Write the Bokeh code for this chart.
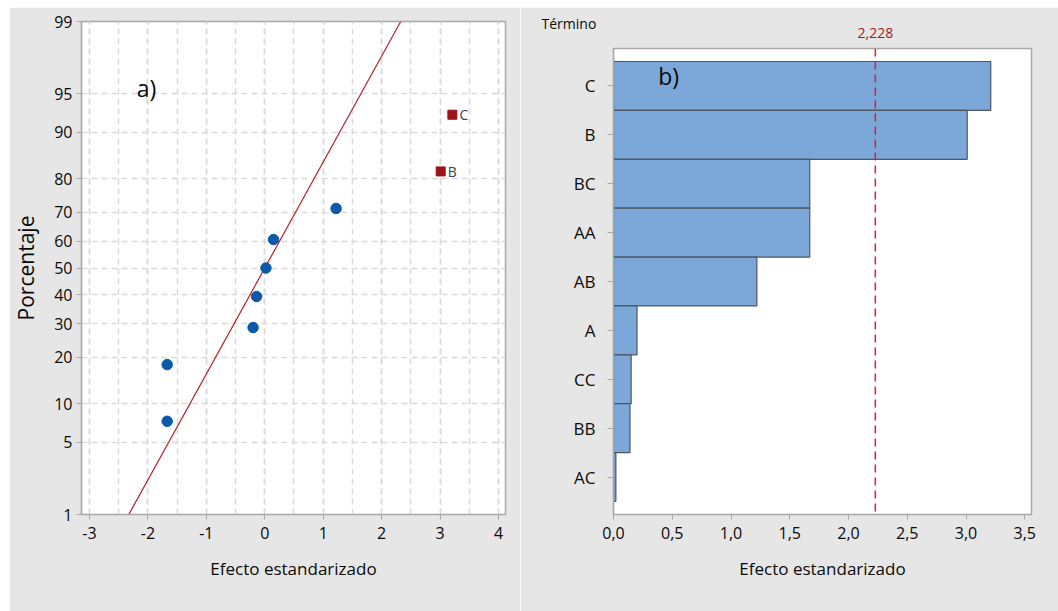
from statistics import NormalDist

from bokeh.core.properties import value
from bokeh.embed import file_html
from bokeh.layouts import row
from bokeh.models import CustomJSTickFormatter, FixedTicker, Label, LinearAxis, Range1d, Span
from bokeh.plotting import figure
from bokeh.resources import INLINE

# Standardized effects of the model terms (Pareto order)
terms = ["C", "B", "BC", "AA", "AB", "A", "CC", "BB", "AC"]
effects = [3.21, 3.01, -1.67, -1.67, 1.22, -0.20, 0.15, -0.14, 0.02]

# Plotting positions (%) of the ordered effects on the normal plot
normal_pct = [7.4, 18.1, 28.7, 39.4, 50.0, 60.6, 71.3, 81.9, 92.6]

# Reference line of the Pareto chart (t critical, alpha = 0.05)
critical_t = 2.228

# Fitted normal line for the effects
fit_mean = 0.0
fit_sd = 1.0

pct_ticks = [1, 5, 10, 20, 30, 40, 50, 60, 70, 80, 90, 95, 99]
left_x_ticks = [-3, -2, -1, 0, 1, 2, 3, 4]
left_x_minor = [-3, -2.5, -2, -1.5, -1, -0.5, 0, 0.5, 1, 1.5, 2, 2.5, 3, 3.5, 4]
right_x_ticks = [0.0, 0.5, 1.0, 1.5, 2.0, 2.5, 3.0, 3.5]

FONT = "Open Sans"
PANEL = "#e6e6e6"
FRAME = "#a8a8a8"
GRID = "#dadada"
BLUE = "#0b5aa8"
DARK_RED = "#9c1419"
LINE_RED = "#b0222a"
BAR_FILL = "#7ba7d9"
BAR_LINE = "#4d5660"
INK = "#0a0a0a"

nd = NormalDist()
z_of = lambda pct: nd.inv_cdf(pct / 100.0)


def style_axes(p):
    for ax in p.axis:
        ax.axis_line_color = FRAME
        ax.axis_line_width = 1.2
        ax.major_tick_line_color = FRAME
        ax.major_tick_in = 0
        ax.major_tick_out = 5
        ax.minor_tick_line_color = None
        ax.major_label_text_font = FONT
        ax.major_label_text_font_size = "16px"
        ax.major_label_text_color = INK
        ax.axis_label_text_font = FONT
        ax.axis_label_text_font_style = "normal"
        ax.axis_label_text_color = INK


# ---------------- a) normal probability plot ----------------
order = sorted(range(len(effects)), key=lambda i: effects[i])
nx = [effects[i] for i in order]
nz = [z_of(p) for p in normal_pct]
nterm = [terms[i] for i in order]
sig = [abs(v) > critical_t for v in nx]

p1 = figure(
    width=511, height=604,
    x_range=Range1d(-3.136, 4.119),
    y_range=Range1d(z_of(pct_ticks[0]), z_of(pct_ticks[-1])),
    output_backend="svg", toolbar_location=None,
    min_border_left=69, min_border_right=15, min_border_top=14, min_border_bottom=97,
    background_fill_color="white", border_fill_color=PANEL,
    outline_line_color=FRAME, outline_line_width=1.5,
    margin=(7, 0, 0, 9), frame_align=False,
)
p1.xaxis.ticker = FixedTicker(ticks=left_x_ticks, minor_ticks=left_x_minor)
p1.yaxis.ticker = FixedTicker(ticks=[z_of(t) for t in pct_ticks])
p1.yaxis.formatter = CustomJSTickFormatter(
    args=dict(zs=[z_of(t) for t in pct_ticks], labels=[str(t) for t in pct_ticks]),
    code="""
        let best = 0, d = 1e9;
        for (let i = 0; i < zs.length; i++) {
            const e = Math.abs(zs[i] - tick);
            if (e < d) { d = e; best = i; }
        }
        return labels[best];
    """,
)
p1.xaxis.formatter = CustomJSTickFormatter(code="return tick.toFixed(0);")

for g in (p1.xgrid, p1.ygrid):
    g.grid_line_color = GRID
    g.grid_line_width = 1.5
    g.grid_line_dash = "6 4"
p1.xgrid.minor_grid_line_color = GRID
p1.xgrid.minor_grid_line_width = 1.5
p1.xgrid.minor_grid_line_dash = "6 4"

style_axes(p1)
p1.xaxis.axis_label = "Efecto estandarizado"
p1.xaxis.axis_label_text_font_size = "17px"
p1.xaxis.axis_label_standoff = 15
p1.xaxis.major_label_standoff = 7
p1.yaxis.axis_label = "Porcentaje"
p1.yaxis.axis_label_text_font_size = "21px"
p1.yaxis.axis_label_standoff = 11
p1.yaxis.major_label_standoff = 4

# fitted line across the full probability range
fz = [z_of(pct_ticks[0]), z_of(pct_ticks[-1])]
p1.line([fit_mean + fit_sd * z for z in fz], fz, line_color=LINE_RED, line_width=1.2)

bx = [x for x, s in zip(nx, sig) if not s]
bz = [z for z, s in zip(nz, sig) if not s]
p1.scatter(bx, bz, marker="circle", size=10.5, fill_color=BLUE, line_color=BLUE)

rx = [x for x, s in zip(nx, sig) if s]
rz = [z for z, s in zip(nz, sig) if s]
rt = [t for t, s in zip(nterm, sig) if s]
p1.scatter(rx, rz, marker="square", size=9, fill_color=DARK_RED, line_color=DARK_RED)
p1.text(rx, rz, text=rt, x_offset=7, text_baseline="middle", text_align="left",
        text_font=value(FONT), text_font_size="14px", text_color="#3d3d5c")

p1.add_layout(Label(x=-2.19, y=z_of(95.5), text="a)", text_baseline="middle",
                    text_font=FONT, text_font_size="23px", text_color=INK))

# ---------------- b) Pareto chart ----------------
abs_eff = [abs(v) for v in effects]
ypos = list(range(len(terms), 0, -1))

p2 = figure(
    width=538, height=604,
    x_range=Range1d(0, 3.557),
    y_range=Range1d(0.234, len(terms) + 0.766),
    output_backend="svg", toolbar_location=None,
    min_border_left=93, min_border_right=27, min_border_top=41, min_border_bottom=97,
    background_fill_color="white", border_fill_color=PANEL,
    outline_line_color=FRAME, outline_line_width=1.5,
    margin=(7, 0, 0, 0), frame_align=False,
    title="Término",
)
p2.title.align = "left"
p2.title.offset = -72
p2.title.standoff = -17
p2.title.text_font = FONT
p2.title.text_font_size = "14px"
p2.title.text_font_style = "normal"
p2.title.text_color = INK

p2.xgrid.grid_line_color = None
p2.ygrid.grid_line_color = None

bottom_axis = p2.below[0]
bottom_axis.ticker = FixedTicker(ticks=right_x_ticks)
bottom_axis.formatter = CustomJSTickFormatter(code="return tick.toFixed(1).replace('.', ',');")
p2.yaxis.ticker = FixedTicker(ticks=ypos)
p2.yaxis.major_label_overrides = {y: t for y, t in zip(ypos, terms)}

# value of the reference line printed above the frame
ref_axis = LinearAxis(
    ticker=FixedTicker(ticks=[critical_t]),
    formatter=CustomJSTickFormatter(code="return tick.toFixed(3).replace('.', ',');"),
)
p2.add_layout(ref_axis, "above")

style_axes(p2)
ref_axis.axis_line_color = None
ref_axis.major_tick_line_color = None
ref_axis.major_tick_out = 0
ref_axis.major_label_standoff = 11
ref_axis.major_label_text_font_size = "14px"
ref_axis.major_label_text_color = "#a01e28"

bottom_axis.axis_label = "Efecto estandarizado"
bottom_axis.axis_label_text_font_size = "17px"
bottom_axis.axis_label_standoff = 15
bottom_axis.major_label_standoff = 7
p2.yaxis.major_tick_out = 6
p2.yaxis.major_label_standoff = 12
p2.yaxis.major_label_text_font_size = "17px"

p2.hbar(y=ypos, left=0, right=abs_eff, height=1.0,
        fill_color=BAR_FILL, line_color=BAR_LINE, line_width=1.2)

p2.add_layout(Span(location=critical_t, dimension="height", line_color="#e02028",
                   line_width=1.5, line_dash="8 5"))
p2.add_layout(Label(x=0.38, y=len(terms) + 0.21, text="b)", text_baseline="middle",
                    text_font=FONT, text_font_size="23px", text_color=INK))

layout = row(p1, p2)
open("out.html", "w").write(file_html(layout, INLINE))
